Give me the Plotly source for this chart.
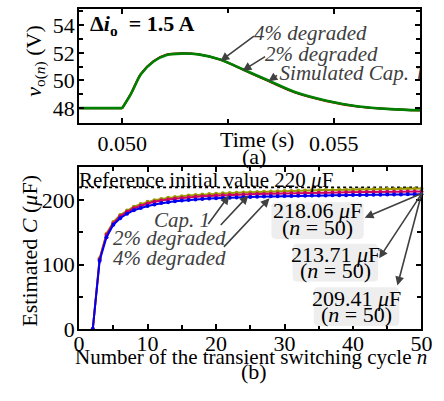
import plotly.graph_objects as go

W, H = 444, 401
def px(x): return x / W
def py(y): return 1 - y / H

FONT = "Liberation Serif"

# ---- panel (a) data: output voltage transient ----
t_s = [0.04898, 0.0500, 0.05021, 0.05044, 0.05074, 0.05105, 0.05139, 0.05180,
       0.05233, 0.05286, 0.05347, 0.05408, 0.05483, 0.05559, 0.05635, 0.05705]
v_deg4 = [48.0, 48.0, 49.08, 50.48, 51.41, 51.88, 51.97, 51.90, 51.50, 50.78,
          49.94, 49.13, 48.51, 48.10, 47.92, 47.83]
v_deg2 = [48.0, 48.0, 49.06, 50.46, 51.39, 51.86, 51.96, 51.89, 51.50, 50.79,
          49.96, 49.15, 48.53, 48.11, 47.93, 47.84]
v_cap1 = [48.0, 48.0, 49.05, 50.45, 51.38, 51.85, 51.95, 51.89, 51.50, 50.80,
          49.98, 49.17, 48.54, 48.12, 47.93, 47.84]

# ---- panel (b) data: estimated capacitance ----
n_cycle = list(range(2, 51))
c_cap1 = [0, 110, 148, 166, 177, 184, 190, 194, 197.5, 200,
          202, 203.7, 205, 206.2, 207.2, 208, 208.8, 209.5, 210.1, 210.7,
          211.2, 211.7, 212.1, 212.5, 212.9, 213.3, 213.6, 213.9, 214.2, 214.5,
          214.8, 215.0, 215.3, 215.5, 215.7, 215.9, 216.1, 216.3, 216.5, 216.7,
          216.9, 217.0, 217.2, 217.3, 217.5, 217.6, 217.8, 217.9, 218.06]
c_deg2 = [0, 108, 146, 164, 175, 182, 187.5, 191.5, 195, 197.5,
          199.5, 201, 202.3, 203.5, 204.5, 205.3, 206, 206.6, 207.2, 207.7,
          208.1, 208.5, 208.9, 209.2, 209.5, 209.8, 210.1, 210.4, 210.6, 210.8,
          211.0, 211.2, 211.4, 211.6, 211.8, 212.0, 212.1, 212.3, 212.4, 212.6,
          212.7, 212.8, 212.9, 213.1, 213.2, 213.3, 213.5, 213.6, 213.71]
c_deg4 = [0, 106, 142.5, 162, 172, 179, 184.5, 188, 191, 193.5,
          195.5, 197, 198.3, 199.4, 200.4, 201.2, 201.9, 202.5, 203.1, 203.6,
          204.0, 204.4, 204.8, 205.1, 205.4, 205.7, 206.0, 206.2, 206.4, 206.6,
          206.8, 207.0, 207.2, 207.3, 207.5, 207.6, 207.8, 207.9, 208.0, 208.2,
          208.3, 208.4, 208.5, 208.7, 208.8, 208.9, 209.1, 209.2, 209.41]
c_ref = 220
final_labels = ["218.06", "213.71", "209.41"]

fig = go.Figure()

# panel (a) traces
for vals, col, w in [(v_deg4, "#d00000", 2.2), (v_deg2, "#202020", 1.6), (v_cap1, "#008000", 2.6)]:
    fig.add_trace(go.Scatter(x=t_s[:2], y=vals[:2], mode="lines",
                             line=dict(color=col, width=w), xaxis="x", yaxis="y", showlegend=False))
    fig.add_trace(go.Scatter(x=t_s[1:], y=vals[1:], mode="lines",
                             line=dict(color=col, width=w, shape="spline", smoothing=0.8),
                             xaxis="x", yaxis="y", showlegend=False))

# clipped label in (a)
fig.add_trace(go.Scatter(x=[0.05372], y=[50.42], mode="text", text=["<i>Simulated Cap. 1</i>"],
                         textposition="middle right", cliponaxis=True,
                         textfont=dict(family=FONT, size=21, color="#404040"),
                         xaxis="x", yaxis="y", showlegend=False))

# panel (b) traces
fig.add_trace(go.Scatter(x=[0, 50], y=[c_ref, c_ref], mode="lines",
                         line=dict(color="black", width=1.6, dash="dot"),
                         xaxis="x2", yaxis="y2", showlegend=False))
for vals, col in [(c_cap1, "#9a9a00"), (c_deg2, "#cc0066"), (c_deg4, "#0000ee")]:
    fig.add_trace(go.Scatter(x=n_cycle, y=vals, mode="lines+markers",
                             line=dict(color=col, width=2),
                             marker=dict(color=col, size=4),
                             xaxis="x2", yaxis="y2", showlegend=False, cliponaxis=False))

axis_common = dict(showline=True, linecolor="black", linewidth=2, mirror="allticks",
                   ticks="inside", ticklen=5, tickwidth=1.5, tickcolor="black",
                   showgrid=False, zeroline=False,
                   tickfont=dict(family=FONT, size=22, color="black"))

fig.update_layout(
    width=W, height=H, margin=dict(l=0, r=0, t=0, b=0),
    paper_bgcolor="white", plot_bgcolor="white",
    xaxis=dict(domain=[px(76), px(431)], range=[0.04898, 0.05705],
               tickvals=[0.050, 0.055], ticktext=["0.050", "0.055"],
               minor=dict(tickvals=[0.0525], ticks="inside", ticklen=4, tickcolor="black"),
               anchor="y", **axis_common),
    yaxis=dict(domain=[py(127), py(9)], range=[46.93, 55.2],
               tickvals=[48, 50, 52, 54], ticklabelstandoff=-2,
               minor=dict(dtick=1, ticks="inside", ticklen=4, tickcolor="black"),
               anchor="x", **axis_common),
    xaxis2=dict(domain=[px(76), px(432)], range=[0, 50],
                tickvals=[0, 10, 20, 30, 40, 50], ticklabelstandoff=-6,
                minor=dict(dtick=5, ticks="inside", ticklen=4, tickcolor="black"),
                anchor="y2", **axis_common),
    yaxis2=dict(domain=[py(340), py(173)], range=[0, 251],
                tickvals=[0, 100, 200], ticklabelstandoff=-2,
                minor=dict(dtick=50, ticks="inside", ticklen=4, tickcolor="black"),
                anchor="x2", **axis_common),
)

ann = []
def text(x, y, s, size=22, color="black", **kw):
    ann.append(dict(x=px(x), y=py(y), xref="paper", yref="paper", text=s, showarrow=False,
                    xanchor="center", yanchor="middle",
                    font=dict(family=FONT, size=size, color=color), **kw))

def arrow(x0, y0, x1, y1):
    ann.append(dict(x=px(x1), y=py(y1), xref="paper", yref="paper", text="",
                    showarrow=True, ax=x0 - x1, ay=y0 - y1, axref="pixel", ayref="pixel",
                    arrowhead=2, arrowsize=1.1, arrowwidth=1.6, arrowcolor="#404040"))

shapes = []
def rbox(x0, y0, x1, y1, r=5):
    X = lambda v: px(v)
    Y = lambda v: py(v)
    path = (f"M {X(x0+r)} {Y(y0)} L {X(x1-r)} {Y(y0)} Q {X(x1)} {Y(y0)} {X(x1)} {Y(y0+r)} "
            f"L {X(x1)} {Y(y1-r)} Q {X(x1)} {Y(y1)} {X(x1-r)} {Y(y1)} "
            f"L {X(x0+r)} {Y(y1)} Q {X(x0)} {Y(y1)} {X(x0)} {Y(y1-r)} "
            f"L {X(x0)} {Y(y0+r)} Q {X(x0)} {Y(y0)} {X(x0+r)} {Y(y0)} Z")
    shapes.append(dict(type="path", path=path, xref="paper", yref="paper",
                       fillcolor="#eeeeee", line=dict(width=0), layer="above"))

# panel (a) texts
text(141, 26, "<b>Δ<i>i</i><sub>o</sub>  = 1.5 A</b>")
text(317, 34, "<i>4% degraded</i>", size=21, color="#404040")
text(328, 56, "<i>2% degraded</i>", size=21, color="#404040")
arrow(258, 37, 223, 63)
arrow(270, 58, 246, 73)
arrow(283, 77, 273, 84)
text(261, 144, "Time (s)")
text(258, 162, "(a)")
ann.append(dict(x=px(31), y=py(63), xref="paper", yref="paper", showarrow=False, textangle=-90,
                xanchor="center", yanchor="middle",
                text="<i>v</i><sub>o(<i>n</i>)</sub> (V)", font=dict(family=FONT, size=22, color="black")))

# panel (b) texts
text(208, 186, "Reference initial value 220 <i>μ</i>F", size=21)
text(183, 227, "<i>Cap. 1</i>", size=21, color="#404040")
text(170, 246, "<i>2% degraded</i>", size=21, color="#404040")
text(170, 267, "<i>4% degraded</i>", size=21, color="#404040")
arrow(210, 232, 232, 202)
arrow(223, 233, 252, 202)
arrow(227, 255, 274, 205)

boxes = [(276, 209, 372, 247, 218, 235), (298, 252, 387, 291, 263, 280), (320, 297, 409, 337, 308, 325)]
for (x0, y0, x1, y1, l1, l2), lab in zip(boxes, final_labels):
    rbox(x0, y0, x1, y1)
    cx = (x0 + x1) / 2
    text(cx, l1, f"{lab} <i>μ</i>F")
    text(cx, l2, "(<i>n</i> = 50)")
arrow(432, 200, 373, 225)
arrow(432, 200, 388, 267)
arrow(432, 200, 407, 295)

text(255, 369, "Number of the transient switching cycle <i>n</i>", size=21)
text(258, 384, "(b)")
ann.append(dict(x=px(25), y=py(259), xref="paper", yref="paper", showarrow=False, textangle=-90,
                xanchor="center", yanchor="middle",
                text="Estimated <i>C</i> (<i>μ</i>F)", font=dict(family=FONT, size=22, color="black")))

fig.update_layout(annotations=ann, shapes=shapes)
fig.write_html("out.html")
